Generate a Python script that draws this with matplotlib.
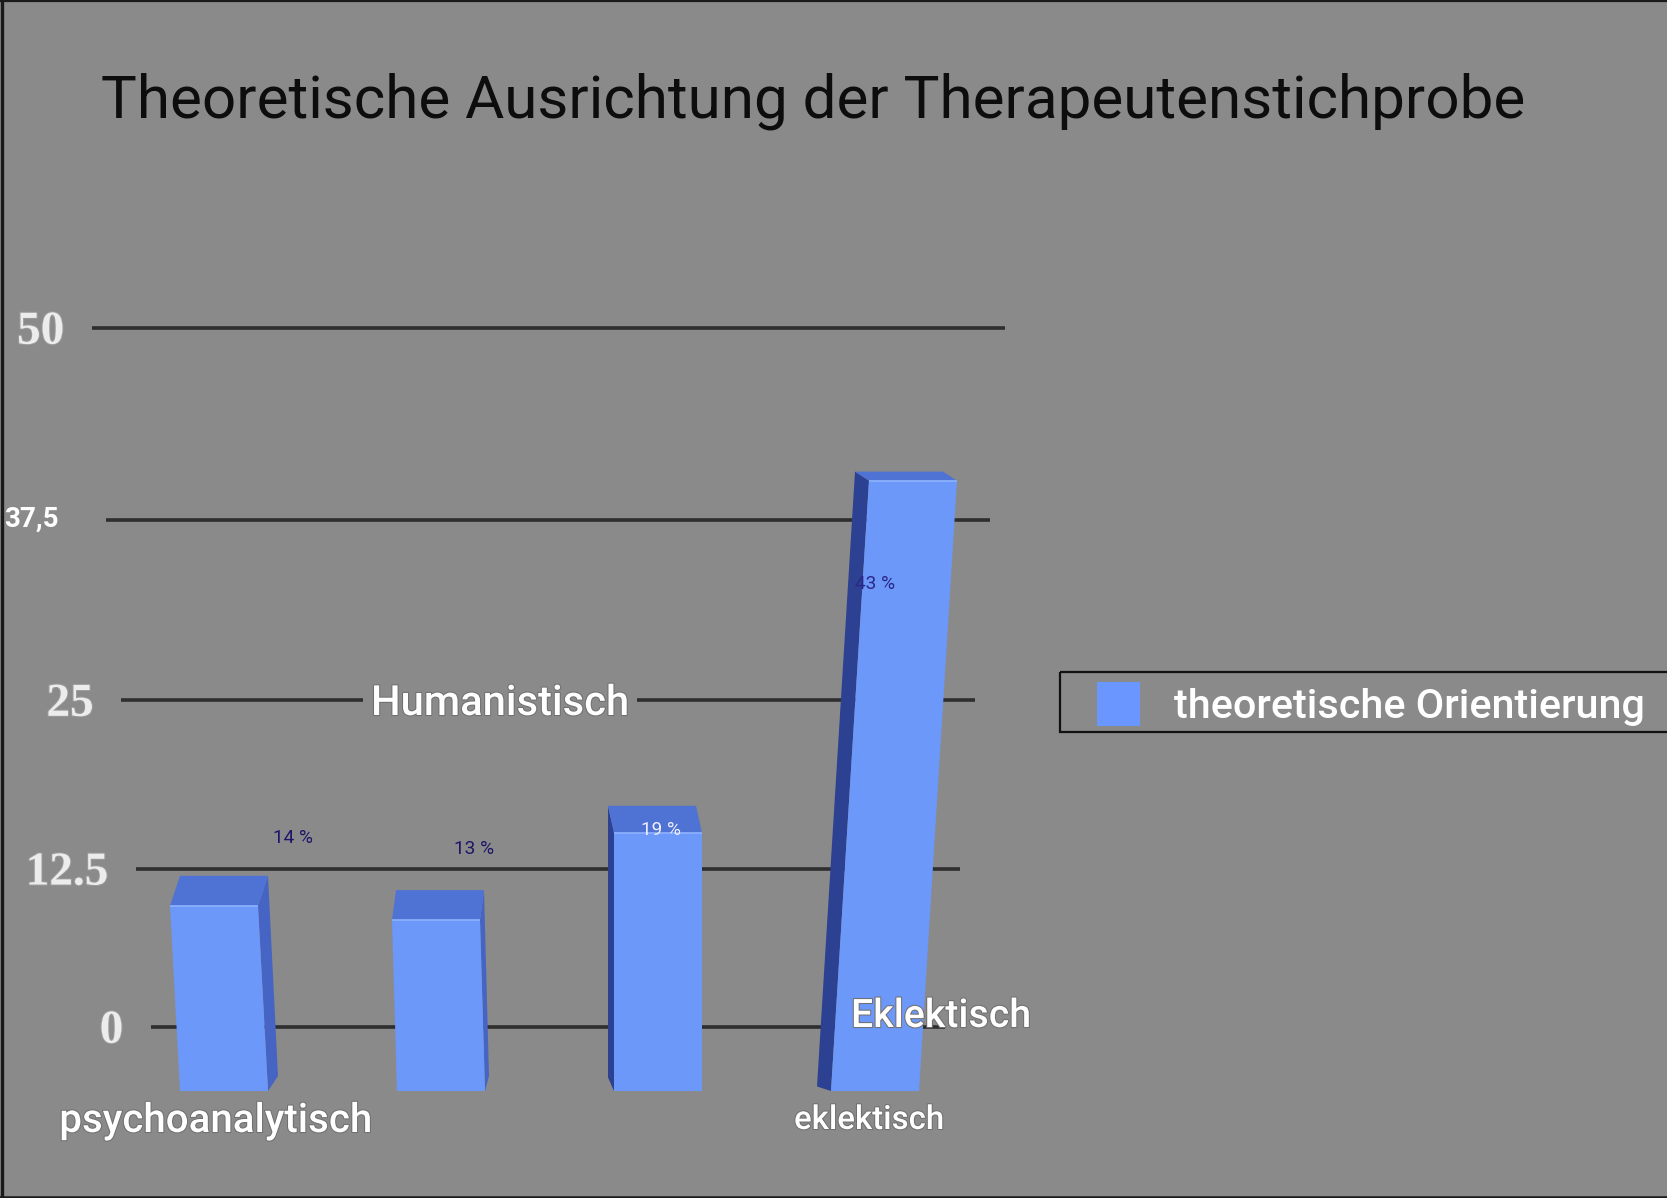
import numpy as np
import matplotlib
matplotlib.use("Agg")
import matplotlib.pyplot as plt
from matplotlib.patches import Polygon, Rectangle
from matplotlib.transforms import ScaledTranslation
import matplotlib.patheffects as pe

# ---------------- data ----------------
title = "Theoretische Ausrichtung der Therapeutenstichprobe"
categories = ["psychoanalytisch", "", "", "eklektisch"]
values = [14, 13, 19, 43]
value_labels = ["14 %", "13 %", "19 %", "43 %"]
y_ticks = [0, 12.5, 25, 37.5, 50]
y_tick_labels = ["0", "12.5", "25", "37,5", "50"]
series_name = "theoretische Orientierung"
floating_labels = ["Humanistisch", "Eklektisch"]

# ---------------- style / layout ----------------
W, H, DPI = 1667, 1198, 100
BG = "#8a8a8a"
FRONT = "#6c98fa"
TOP = "#4f73d4"
SIDE_R = "#4564c4"
SIDE_L = "#2c4192"
GRID = "#2e2e2e"
SANS = ["Roboto", "DejaVu Sans"]
SERIF = ["Liberation Serif", "DejaVu Serif"]

PX_X = 217.0      # px per category
X0 = 224.0        # px of first bar centre (bottom)
PX_Y = 14.3       # px per value unit for bars
BAR_BOTTOM = 1091.0
bar_w_px = 88
lean_px = [-10, -5, 0, 38]
depth_px = [30, 30, 27, 9]
side_px = [10, 4, -6, -14]
pct_offsets = [(79, -33), (38, -36), (3, 29), (-38, 117)]   # (dx, dy down) px from bar top
pct_colors = ["#1d1668", "#1d1668", "#eeeeff", "#2a2788"]
cat_offsets = [(-8, 41), (0, 40), (0, 40), (-6, 38)]
cat_widths = [313, 0, 0, 150]

# grid perspective geometry (px)
GRID_BOTTOM, GRID_TOP = 1026.7, 327.7
K = np.log(1.067) / 12.5

plt.rcParams["font.family"] = SANS
fig = plt.figure(figsize=(W / DPI, H / DPI), dpi=DPI, facecolor=BG)
renderer = fig.canvas.get_renderer()


def fit(t, target):
    for _ in range(2):
        w = t.get_window_extent(renderer).width
        t.set_fontsize(t.get_fontsize() * target / w)


halo = [pe.withStroke(linewidth=1.5, foreground="#707070")]

# ---- grid axes ----
ax1 = fig.add_axes([0, (H - GRID_BOTTOM) / H, 1, (GRID_BOTTOM - GRID_TOP) / H])
ax1.set_zorder(1)
ax1.set_facecolor("none")
ax1.set_yscale("function", functions=(lambda v: np.exp(K * np.asarray(v)),
                                      lambda u: np.log(np.asarray(u)) / K))
ax1.set_xlim(0, W)
ax1.set_ylim(0, 50)
ax1.axis("off")


def g_left(v):
    return 150.7 - 1.18 * v


def g_right(v):
    return 945.0 + 1.19 * v


for v, lab in zip(y_ticks, y_tick_labels):
    ax1.hlines(v, g_left(v), g_right(v), color=GRID, lw=2.6, clip_on=False)
    if "," in lab:
        tr = ax1.transData + ScaledTranslation(0, -7 / DPI, fig.dpi_scale_trans)
        ax1.text(4, v, lab, transform=tr, ha="left", va="baseline",
                 color="white", fontsize=20, fontweight="bold", family=SANS,
                 clip_on=False)
    else:
        tr = ax1.transData + ScaledTranslation(0, -16 / DPI, fig.dpi_scale_trans)
        ax1.text(g_left(v) - 27.5, v, lab, transform=tr, ha="right", va="baseline",
                 color="#ececec", fontsize=34, fontweight="bold", family=SERIF,
                 path_effects=[pe.withStroke(linewidth=1.5, foreground="#9a9a9a")])

# ---- bar axes ----
ax2 = fig.add_axes([0, (H - BAR_BOTTOM) / H, 1, 50 * PX_Y / H])
ax2.set_zorder(2)
ax2.set_facecolor("none")
ax2.set_xlim(-X0 / PX_X, (W - X0) / PX_X)
ax2.set_ylim(0, 50)
ax2.axis("off")

hw = bar_w_px / 2 / PX_X
for i, v in enumerate(values):
    cb = i
    ln = lean_px[i] / PX_X
    d = depth_px[i] / PX_Y
    sx = side_px[i] / PX_X
    yf, yt = v - d / 2, v + d / 2
    front = [(cb - hw, 0), (cb + hw, 0), (cb + hw + ln, yf), (cb - hw + ln, yf)]
    top = [(cb - hw + ln, yf), (cb + hw + ln, yf),
           (cb + hw + ln + sx, yt), (cb - hw + ln + sx, yt)]
    edge = hw if sx > 0 else -hw
    side = [(cb + edge, 0), (cb + edge + sx, d / 2),
            (cb + edge + ln + sx, yt), (cb + edge + ln, yf)]
    ax2.add_patch(Polygon(side, closed=True, fc=SIDE_R if sx > 0 else SIDE_L, ec="none"))
    ax2.add_patch(Polygon(front, closed=True, fc=FRONT, ec="none"))
    ax2.add_patch(Polygon(top, closed=True, fc=TOP, ec="none"))
    ax2.plot([cb - hw + ln, cb + hw + ln], [yf, yf], color="#8db2ff", lw=1.2,
             solid_capstyle="butt")
    dx, dy = pct_offsets[i]
    t = ax2.annotate(value_labels[i], xy=(cb + ln, yt), xytext=(dx, -dy),
                     textcoords="offset pixels", ha="center", va="baseline",
                     color=pct_colors[i], fontsize=12)
    fit(t, 40)
    if categories[i]:
        cdx, cdy = cat_offsets[i]
        tr = ax2.transData + ScaledTranslation(cdx / DPI, -cdy / DPI, fig.dpi_scale_trans)
        t = ax2.text(cb, 0, categories[i], transform=tr, ha="center", va="baseline",
                     color="white", fontsize=24, fontweight="medium",
                     path_effects=halo)
        fit(t, cat_widths[i])

# ---- overlay canvas (pixel coords, y down) ----
cv = fig.add_axes([0, 0, 1, 1])
cv.set_zorder(3)
cv.set_facecolor("none")
cv.set_xlim(0, W)
cv.set_ylim(H, 0)
cv.axis("off")

t = cv.text(101, 117, title, ha="left", va="baseline", color="#0d0d0d", fontsize=40)
fit(t, 1424)

t = cv.text(371, 715, floating_labels[0], ha="left", va="baseline", color="white",
            fontsize=26, fontweight="medium",
            bbox=dict(facecolor=BG, edgecolor="none", pad=5), path_effects=halo)
fit(t, 258)
t = cv.text(851, 1027, floating_labels[1], ha="left", va="baseline", color="white",
            fontsize=26, fontweight="medium", path_effects=halo)
fit(t, 180)

# legend
cv.add_patch(Rectangle((1060, 672), 660, 60, fill=False, ec="#111111", lw=1.6))
cv.add_patch(Rectangle((1097, 682), 43, 44, fc="#6a96ff", ec="none"))
t = cv.text(1174, 718, series_name, ha="left", va="baseline", color="white",
            fontsize=28, fontweight="medium")
fit(t, 471)

# frame of the picture
cv.plot([1.5, 1.5], [0, H], color="#1a1a1a", lw=2.4)
cv.plot([0, W], [1, 1], color="#1a1a1a", lw=1.6)
cv.plot([0, W], [H - 1.2, H - 1.2], color="#1a1a1a", lw=1.8)

fig.savefig("out.png", dpi=DPI, facecolor=BG)
